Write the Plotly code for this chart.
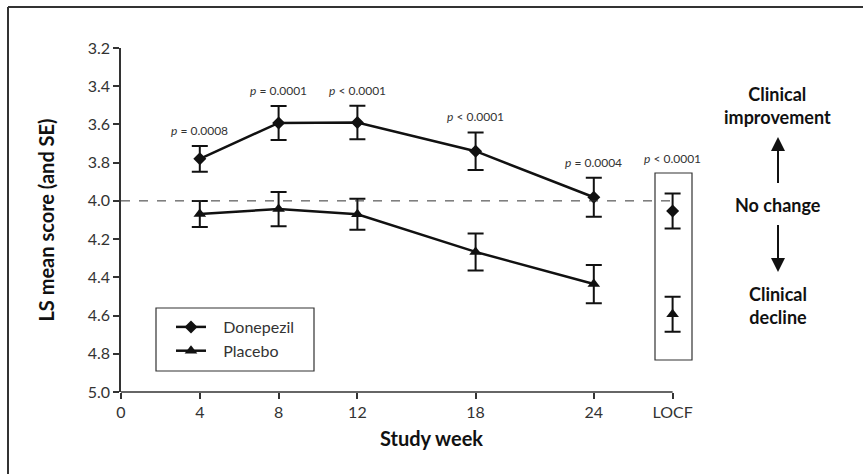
import plotly.graph_objects as go

# ---------------- data ----------------
weeks = [4, 8, 12, 18, 24]
locf_pos = 28
tick_vals = [0, 4, 8, 12, 18, 24, 28]
tick_text = ["0", "4", "8", "12", "18", "24", "LOCF"]
series_names = ["Donepezil", "Placebo"]

donepezil_mean = [3.78, 3.592, 3.59, 3.74, 3.981]
donepezil_se = [0.067, 0.089, 0.088, 0.098, 0.102]
donepezil_locf_mean = [4.053]
donepezil_locf_se = [0.092]

placebo_mean = [4.068, 4.043, 4.07, 4.267, 4.435]
placebo_se = [0.068, 0.09, 0.081, 0.097, 0.1]
placebo_locf_mean = [4.593]
placebo_locf_se = [0.092]

p_labels = ["= 0.0008", "= 0.0001", "< 0.0001", "< 0.0001", "= 0.0004"]
p_label_locf = "< 0.0001"

y_ticks = [3.2, 3.4, 3.6, 3.8, 4.0, 4.2, 4.4, 4.6, 4.8, 5.0]

# ---------------- layout geometry (pixels) ----------------
W, H = 863, 474
ML, MR, MT, MB = 121, 151, 48, 82
PW, PH = W - ML - MR, H - MT - MB
X_MAX = 30


def px_x(px):
    return (px - ML) / PW


def px_y(py):
    return (H - MB - py) / PH


FONT = "Lato"
INK = "#111111"
GREY = "#333333"
PAD = "\u00a0\u00a0\u00a0"

fig = go.Figure()

err_style = dict(type="data", thickness=2, width=8, color=INK)

fig.add_trace(go.Scatter(
    x=weeks, y=donepezil_mean, name=PAD + series_names[0], mode="lines+markers",
    line=dict(color=INK, width=2.5),
    marker=dict(symbol="diamond", size=10, color=INK),
    error_y=dict(array=donepezil_se, **err_style), cliponaxis=False))
fig.add_trace(go.Scatter(
    x=weeks, y=placebo_mean, name=PAD + series_names[1], mode="lines+markers",
    line=dict(color=INK, width=2.5),
    marker=dict(symbol="triangle-up", size=11, color=INK),
    error_y=dict(array=placebo_se, **err_style), cliponaxis=False))
fig.add_trace(go.Scatter(
    x=[locf_pos], y=donepezil_locf_mean, mode="markers", showlegend=False,
    marker=dict(symbol="diamond", size=10, color=INK),
    error_y=dict(array=donepezil_locf_se, **err_style), cliponaxis=False))
fig.add_trace(go.Scatter(
    x=[locf_pos], y=placebo_locf_mean, mode="markers", showlegend=False,
    marker=dict(symbol="triangle-up", size=11, color=INK),
    error_y=dict(array=placebo_locf_se, **err_style), cliponaxis=False))

shapes = []
# x-axis line (stops at LOCF)
shapes.append(dict(type="line", xref="x", yref="paper", x0=0, x1=locf_pos, y0=0, y1=0,
                   line=dict(color=GREY, width=1.5)))
# no-change reference line
shapes.append(dict(type="line", xref="x", yref="y", x0=0, x1=locf_pos, y0=4.0, y1=4.0,
                   line=dict(color=GREY, width=1, dash="dash")))
# LOCF box
shapes.append(dict(type="rect", xref="paper", yref="paper",
                   x0=px_x(655), x1=px_x(692), y0=px_y(360), y1=px_y(173),
                   line=dict(color=GREY, width=1.2)))
# legend box
shapes.append(dict(type="rect", xref="paper", yref="paper",
                   x0=px_x(156), x1=px_x(314), y0=px_y(371), y1=px_y(308),
                   line=dict(color=GREY, width=1.2)))
# outer frame (left and top)
shapes.append(dict(type="line", xref="paper", yref="paper",
                   x0=px_x(8), x1=px_x(8), y0=px_y(7), y1=px_y(H + 5),
                   line=dict(color=GREY, width=2)))
shapes.append(dict(type="line", xref="paper", yref="paper",
                   x0=px_x(8), x1=px_x(W + 5), y0=px_y(7), y1=px_y(7),
                   line=dict(color=GREY, width=2)))
# arrow shafts
shapes.append(dict(type="line", xref="paper", yref="paper",
                   x0=px_x(778), x1=px_x(778), y0=px_y(183), y1=px_y(145),
                   line=dict(color=INK, width=2)))
shapes.append(dict(type="line", xref="paper", yref="paper",
                   x0=px_x(778), x1=px_x(778), y0=px_y(225), y1=px_y(264),
                   line=dict(color=INK, width=2)))

annotations = []
p_font = dict(family=FONT, size=12, color=GREY)
for wk, m, s, lab in zip(weeks, donepezil_mean, donepezil_se, p_labels):
    annotations.append(dict(x=wk, y=m - s, xref="x", yref="y", text="<i>p</i> " + lab,
                            showarrow=False, xanchor="center", yanchor="bottom",
                            yshift=6, font=p_font))
annotations.append(dict(x=locf_pos, y=px_y(173), xref="x", yref="paper",
                        text="<i>p</i> " + p_label_locf,
                        showarrow=False, xanchor="center", yanchor="bottom",
                        yshift=5, font=p_font))

right_font = dict(family=FONT, size=18, color=INK)
annotations.append(dict(x=px_x(778), y=px_y(106), xref="paper", yref="paper",
                        text="<b>Clinical<br>improvement</b>", showarrow=False,
                        xanchor="center", yanchor="middle",
                        font=right_font, align="center"))
annotations.append(dict(x=px_x(778), y=px_y(205), xref="paper", yref="paper",
                        text="<b>No change</b>", showarrow=False,
                        xanchor="center", yanchor="middle", font=right_font))
annotations.append(dict(x=px_x(778), y=px_y(305), xref="paper", yref="paper",
                        text="<b>Clinical<br>decline</b>", showarrow=False,
                        xanchor="center", yanchor="middle",
                        font=right_font, align="center"))
arrow_common = dict(xref="paper", yref="paper", ax=0, text="", showarrow=True,
                    arrowhead=2, arrowsize=1.4, arrowwidth=2, arrowcolor=INK,
                    font=dict(size=1), borderpad=0)
annotations.append(dict(x=px_x(778), y=px_y(137), ay=46, **arrow_common))
annotations.append(dict(x=px_x(778), y=px_y(272), ay=-46, **arrow_common))
# x-axis title
annotations.append(dict(x=px_x(432), y=px_y(438), xref="paper", yref="paper",
                        text="<b>Study week</b>", showarrow=False,
                        xanchor="center", yanchor="middle",
                        font=dict(family=FONT, size=20, color=INK)))

fig.update_layout(
    width=W, height=H,
    margin=dict(l=ML, r=MR, t=MT, b=MB),
    paper_bgcolor="white", plot_bgcolor="white",
    font=dict(family=FONT, color=GREY),
    shapes=shapes, annotations=annotations,
    showlegend=True,
    legend=dict(x=px_x(171), y=px_y(310), xanchor="left", yanchor="top",
                bgcolor="rgba(0,0,0,0)", borderwidth=0,
                font=dict(family=FONT, size=16, color=GREY),
                tracegroupgap=0),
)

fig.update_xaxes(range=[0, X_MAX], tickvals=tick_vals, ticktext=tick_text,
                 showline=False,
                 ticks="outside", ticklen=6, tickwidth=1.5, tickcolor=GREY,
                 tickfont=dict(family=FONT, size=16, color=GREY),
                 showgrid=False, zeroline=False)
fig.update_yaxes(range=[5.0, 3.2], tickvals=y_ticks,
                 ticktext=[f"{v:.1f}" for v in y_ticks],
                 showline=True, linecolor=GREY, linewidth=1.5,
                 ticks="outside", ticklen=6, tickwidth=1.5, tickcolor=GREY,
                 tickfont=dict(family=FONT, size=16, color=GREY),
                 showgrid=False, zeroline=False,
                 title=dict(text="<b>LS mean score (and SE)</b>", standoff=28,
                            font=dict(family=FONT, size=20, color=INK)))

fig.write_html("out.html")
